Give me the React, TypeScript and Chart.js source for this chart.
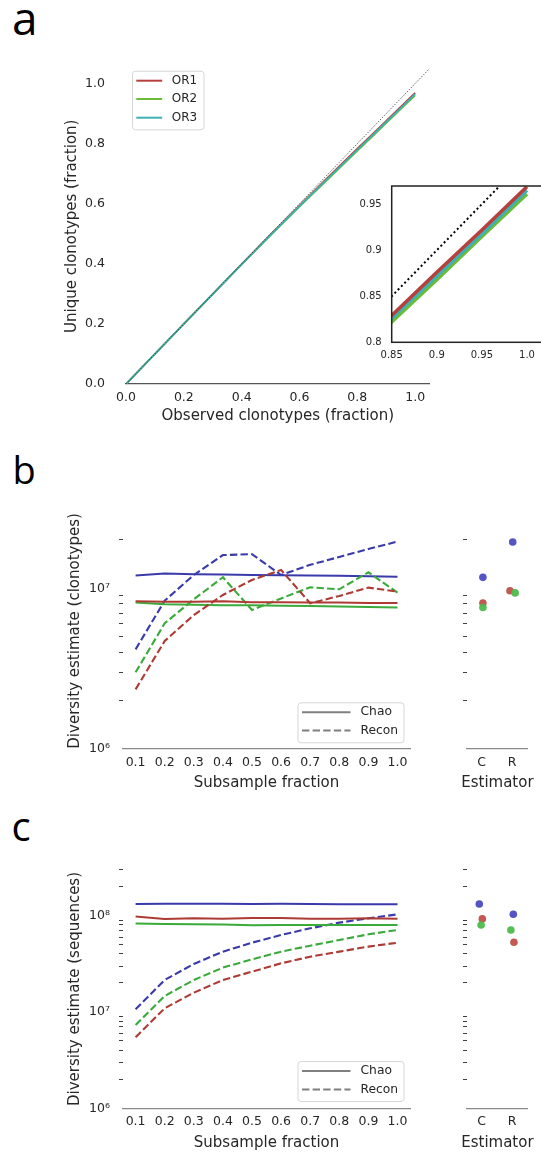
import { useEffect, useRef } from 'react';
import { Chart, registerables } from 'chart.js';

Chart.register(...registerables);
Chart.defaults.font.family = "'DejaVu Sans', 'Liberation Sans', sans-serif";
Chart.defaults.color = '#262626';

const INK = '#262626';

// ---------------- Panel a data ----------------
const repertoireLabels = ['OR1', 'OR2', 'OR3'];
const observedFraction = [0, 0.2, 0.4, 0.5, 0.6, 0.7, 0.8, 0.85, 0.9, 0.95, 1.0];
const uniqueOR1 = [0, 0.2, 0.399, 0.497, 0.594, 0.689, 0.783, 0.829, 0.876, 0.922, 0.969];
const uniqueOR2 = [0, 0.2, 0.398, 0.495, 0.59, 0.683, 0.776, 0.822, 0.868, 0.915, 0.961];
const uniqueOR3 = [0, 0.2, 0.398, 0.496, 0.592, 0.686, 0.779, 0.826, 0.872, 0.918, 0.965];
const identityLine = [0, 1.05];
const mainTicks = [0, 0.2, 0.4, 0.6, 0.8, 1.0];
const insetXTicks = [0.85, 0.9, 0.95, 1.0];
const insetXLabels = ['0.85', '0.9', '0.95', '1.0'];
const insetYTicks = [0.8, 0.85, 0.9, 0.95];
const insetYLabels = ['0.8', '0.85', '0.9', '0.95'];

// ---------------- Panels b / c data ----------------
const subsampleFraction = [0.1, 0.2, 0.3, 0.4, 0.5, 0.6, 0.7, 0.8, 0.9, 1.0];
const methodLabels = ['Chao', 'Recon'];
const estimatorLabels = ['C', 'R'];
const estimatorTicks = [0, 1];

// panel b (clonotypes)
const bChaoBlue = [1.2e7, 1.235e7, 1.225e7, 1.22e7, 1.21e7, 1.205e7, 1.2e7, 1.195e7, 1.19e7, 1.18e7];
const bChaoRed = [8.3e6, 8.25e6, 8.25e6, 8.3e6, 8.2e6, 8.2e6, 8.15e6, 8.15e6, 8.1e6, 8.1e6];
const bChaoGreen = [8.15e6, 7.95e6, 7.9e6, 7.85e6, 7.85e6, 7.8e6, 7.75e6, 7.7e6, 7.65e6, 7.6e6];
const bReconBlue = [4.17e6, 8.38e6, 1.21e7, 1.61e7, 1.63e7, 1.21e7, 1.4e7, 1.567e7, 1.757e7, 1.953e7];
const bReconGreen = [3.0e6, 6.06e6, 8.54e6, 1.171e7, 7.33e6, 8.65e6, 1.015e7, 9.86e6, 1.258e7, 9.4e6];
const bReconRed = [2.35e6, 4.7e6, 6.82e6, 9.09e6, 1.127e7, 1.3e7, 8.07e6, 8.96e6, 1.01e7, 9.53e6];
// estimator points [C, R]
const bPointsBlue = [1.17e7, 1.94e7];
const bPointsRed = [8.1e6, 9.66e6];
const bPointsGreen = [7.6e6, 9.36e6];
const bJitterBlue = [0.04, 0.02];
const bJitterRed = [0.04, -0.07];
const bJitterGreen = [0.04, 0.1];
const bYTicks = [1e6, 2e6, 3e6, 4e6, 5e6, 6e6, 7e6, 8e6, 9e6, 1e7, 2e7];
const bYMajor = [1e6, 1e7];
const bYMajorLabels = ['10\u2076', '10\u2077'];

// panel c (sequences)
const cChaoBlue = [1.32e8, 1.33e8, 1.33e8, 1.33e8, 1.32e8, 1.33e8, 1.32e8, 1.31e8, 1.31e8, 1.31e8];
const cChaoRed = [9.8e7, 9.25e7, 9.4e7, 9.3e7, 9.45e7, 9.45e7, 9.3e7, 9.3e7, 9.4e7, 9.3e7];
const cChaoGreen = [8.3e7, 8.2e7, 8.15e7, 8.1e7, 7.95e7, 8.0e7, 8.0e7, 8.0e7, 8.0e7, 8.0e7];
const cReconBlue = [1.066e7, 2.15e7, 3.15e7, 4.23e7, 5.24e7, 6.3e7, 7.39e7, 8.46e7, 9.38e7, 1.032e8];
const cReconGreen = [7.33e6, 1.466e7, 2.15e7, 2.886e7, 3.52e7, 4.23e7, 4.88e7, 5.59e7, 6.4e7, 7.1e7];
const cReconRed = [5.46e6, 1.092e7, 1.587e7, 2.15e7, 2.62e7, 3.2e7, 3.75e7, 4.23e7, 4.77e7, 5.24e7];
const cPointsBlue = [1.32e8, 1.034e8];
const cPointsRed = [9.25e7, 5.3e7];
const cPointsGreen = [8.0e7, 7.1e7];
const cJitterBlue = [-0.08, 0.04];
const cJitterRed = [0.02, 0.06];
const cJitterGreen = [-0.02, -0.04];
const cYTicks = [
  1e6, 2e6, 3e6, 4e6, 5e6, 6e6, 7e6, 8e6, 9e6,
  1e7, 2e7, 3e7, 4e7, 5e7, 6e7, 7e7, 8e7, 9e7,
  1e8, 2e8, 3e8,
];
const cYMajor = [1e6, 1e7, 1e8];
const cYMajorLabels = ['10\u2076', '10\u2077', '10\u2078'];

// ---------------- colours ----------------
const A_RED = '#b5403c';
const A_GREEN = '#6bbd38';
const A_TEAL = '#3fb0b5';
const RED = '#ad3a33';
const GREEN = '#3aaa3a';
const BLUE = '#3a3aaa';
const P_RED = 'rgba(192,80,72,0.95)';
const P_GREEN = 'rgba(76,187,76,0.95)';
const P_BLUE = 'rgba(75,75,192,0.95)';
const DASH = [7.4, 3.2];

// ---------------- helpers ----------------
const xy = (xs: number[], ys: number[]) => xs.map((x, i) => ({ x, y: ys[i] }));
const setTicks = (values: number[]) => (scale: any) => {
  scale.ticks = values.map((v) => ({ value: v }));
};
const fixWidth = (w: number) => (scale: any) => {
  scale.width = w;
};
const fixHeight = (h: number) => (scale: any) => {
  scale.height = h;
};

function lineSet(label: string, xs: number[], ys: number[], color: string, width: number, dash: number[] = []) {
  return {
    label,
    data: xy(xs, ys),
    showLine: true,
    borderColor: color,
    backgroundColor: color,
    borderWidth: width,
    borderDash: dash,
    pointRadius: 0,
    pointHoverRadius: 0,
    fill: false,
    tension: 0,
  };
}

function pointSet(label: string, values: number[], jitter: number[], color: string) {
  return {
    label,
    data: estimatorTicks.map((x, i) => ({ x: x + jitter[i], y: values[i] })),
    showLine: false,
    pointRadius: 3.8,
    pointHoverRadius: 3.8,
    pointBorderWidth: 0,
    backgroundColor: color,
    borderColor: color,
  };
}

type LegendRow = { label: string; color: string; dash: number[]; y: number };
function boxLegendPlugin(cfg: {
  x: number; y: number; w: number; h: number;
  lineX0: number; lineX1: number; textX: number; fontSize: number; lineWidth: number;
  rows: LegendRow[];
}) {
  return {
    id: 'boxLegend',
    afterDraw(chart: any) {
      const ctx = chart.ctx as CanvasRenderingContext2D;
      ctx.save();
      ctx.beginPath();
      (ctx as any).roundRect(cfg.x + 0.5, cfg.y + 0.5, cfg.w, cfg.h, 3);
      ctx.fillStyle = 'rgba(255,255,255,0.85)';
      ctx.fill();
      ctx.strokeStyle = '#d6d6d6';
      ctx.lineWidth = 1;
      ctx.stroke();
      for (const r of cfg.rows) {
        ctx.beginPath();
        ctx.setLineDash(r.dash);
        ctx.strokeStyle = r.color;
        ctx.lineWidth = cfg.lineWidth;
        ctx.moveTo(cfg.lineX0, r.y);
        ctx.lineTo(cfg.lineX1, r.y);
        ctx.stroke();
        ctx.setLineDash([]);
        ctx.fillStyle = INK;
        ctx.font = `${cfg.fontSize}px 'DejaVu Sans', sans-serif`;
        ctx.textAlign = 'left';
        ctx.textBaseline = 'middle';
        ctx.fillText(r.label, cfg.textX, r.y);
      }
      ctx.restore();
    },
  };
}

function freeTitlePlugin(text: string, x: number, y: number, size: number) {
  return {
    id: 'freeTitle',
    afterDraw(chart: any) {
      const ctx = chart.ctx as CanvasRenderingContext2D;
      ctx.save();
      ctx.fillStyle = INK;
      ctx.font = `${size}px 'DejaVu Sans', sans-serif`;
      ctx.textAlign = 'center';
      ctx.textBaseline = 'middle';
      ctx.fillText(text, x, y);
      ctx.restore();
    },
  };
}

const framePlugin = {
  id: 'frame',
  beforeDatasetsDraw(chart: any) {
    const { left, top, right, bottom } = chart.chartArea;
    const ctx = chart.ctx as CanvasRenderingContext2D;
    ctx.save();
    ctx.fillStyle = '#ffffff';
    ctx.fillRect(left, top, right - left, bottom - top);
    ctx.restore();
  },
  afterDatasetsDraw(chart: any) {
    const { left, top, right, bottom } = chart.chartArea;
    const ctx = chart.ctx as CanvasRenderingContext2D;
    ctx.save();
    ctx.strokeStyle = '#222222';
    ctx.lineWidth = 1.5;
    ctx.strokeRect(left, top, right - left, bottom - top);
    ctx.restore();
  },
};

const baseOptions = (padding: any) => ({
  animation: false as const,
  responsive: false,
  devicePixelRatio: 1,
  events: [] as any[],
  layout: { padding },
  plugins: { legend: { display: false }, tooltip: { enabled: false } },
});

// ---------------- Panel a ----------------
function panelAMain() {
  return {
    type: 'scatter',
    data: {
      datasets: [
        lineSet('identity', identityLine, identityLine, '#333333', 1, [1, 1.6]),
        lineSet(repertoireLabels[2], observedFraction, uniqueOR3, A_TEAL, 1.8),
        lineSet(repertoireLabels[1], observedFraction, uniqueOR2, A_GREEN, 1.8),
        lineSet(repertoireLabels[0], observedFraction, uniqueOR1, A_RED, 1.8),
      ],
    },
    options: {
      ...baseOptions({ left: 0, right: 111.4, top: 23.3, bottom: 0 }),
      scales: {
        x: {
          type: 'linear', min: 0, max: 1.05, bounds: 'data',
          afterBuildTicks: setTicks(mainTicks),
          afterFit: fixHeight(56),
          grid: { display: false, drawTicks: false },
          border: { display: true, color: '#555555', width: 1.2 },
          ticks: { autoSkip: false, maxRotation: 0, padding: 5.8, font: { size: 12.5 }, color: INK, callback: (v: any) => Number(v).toFixed(1) },
          title: { display: true, text: 'Observed clonotypes (fraction)', font: { size: 15 }, color: INK, padding: { top: 0, bottom: 15.3 } },
        },
        y: {
          type: 'linear', min: 0, max: 1.05, bounds: 'data',
          afterBuildTicks: setTicks(mainTicks),
          afterFit: fixWidth(126),
          grid: { display: false, drawTicks: false },
          border: { display: false },
          ticks: { autoSkip: false, padding: 21, font: { size: 12.5 }, color: INK, callback: (v: any) => Number(v).toFixed(1) },
          title: { display: true, text: 'Unique clonotypes (fraction)', font: { size: 15 }, color: INK, padding: { top: 63.5, bottom: 0 } },
        },
      },
    },
    plugins: [
      boxLegendPlugin({
        x: 132, y: 30.7, w: 71.5, h: 58.6,
        lineX0: 136.3, lineX1: 162.2, textX: 171.8, fontSize: 12, lineWidth: 2,
        rows: [
          { label: repertoireLabels[0], color: A_RED, dash: [], y: 40.7 },
          { label: repertoireLabels[1], color: A_GREEN, dash: [], y: 59 },
          { label: repertoireLabels[2], color: A_TEAL, dash: [], y: 77.7 },
        ],
      }),
    ],
  };
}

function panelAInset() {
  return {
    type: 'scatter',
    data: {
      datasets: [
        lineSet('identity', identityLine, identityLine, '#000000', 2, [2, 2.7]),
        lineSet(repertoireLabels[0], observedFraction, uniqueOR1, A_RED, 3.5),
        lineSet(repertoireLabels[2], observedFraction, uniqueOR3, A_TEAL, 3.5),
        lineSet(repertoireLabels[1], observedFraction, uniqueOR2, A_GREEN, 3.5),
      ],
    },
    options: {
      ...baseOptions({ left: 0, right: 0, top: 6, bottom: 0 }),
      scales: {
        x: {
          type: 'linear', min: 0.85, max: 1.0366, bounds: 'data',
          afterBuildTicks: setTicks(insetXTicks),
          afterFit: fixHeight(27.7),
          grid: { display: false, drawTicks: false },
          border: { display: false },
          ticks: { autoSkip: false, maxRotation: 0, padding: 6.7, font: { size: 10 }, color: INK, callback: (_v: any, i: number) => insetXLabels[i] },
        },
        y: {
          type: 'linear', min: 0.8, max: 0.9697, bounds: 'data',
          afterBuildTicks: setTicks(insetYTicks),
          afterFit: fixWidth(51.7),
          grid: { display: false, drawTicks: false },
          border: { display: false },
          ticks: { autoSkip: false, padding: 10, font: { size: 10 }, color: INK, callback: (_v: any, i: number) => insetYLabels[i] },
        },
      },
    },
    plugins: [framePlugin],
  };
}

// ---------------- Panels b / c ----------------
type LogPanel = {
  chaoBlue: number[]; chaoRed: number[]; chaoGreen: number[];
  reconBlue: number[]; reconRed: number[]; reconGreen: number[];
  ptsBlue: number[]; ptsRed: number[]; ptsGreen: number[];
  jitBlue: number[]; jitRed: number[]; jitGreen: number[];
  yTicks: number[]; yMajor: number[]; yMajorLabels: string[];
  yMax: number; yTitle: string;
  padTop: number; xAxisH: number; xTitleBottom: number; titleY: number;
  legendY: number; legendRow1: number; legendRow2: number;
};

function logY(p: LogPanel, width: number, showLabels: boolean) {
  return {
    type: 'logarithmic', min: 1e6, max: p.yMax, bounds: 'data',
    afterBuildTicks: setTicks(p.yTicks),
    afterFit: fixWidth(width),
    grid: {
      display: true, drawOnChartArea: false, drawTicks: true, tickLength: 3.5, lineWidth: 1,
      color: (ctx: any) => (ctx.tick && p.yMajor.includes(ctx.tick.value) ? 'rgba(0,0,0,0)' : '#3c3c3c'),
    },
    border: { display: false },
    ticks: {
      autoSkip: false, padding: 9, font: { size: 12.5 }, color: INK,
      callback: (v: any) => {
        if (!showLabels) return '';
        const k = p.yMajor.indexOf(Number(v));
        return k >= 0 ? p.yMajorLabels[k] : '';
      },
    },
    title: showLabels
      ? { display: true, text: p.yTitle, font: { size: 15 }, color: INK, padding: { top: 66.2, bottom: 0 } }
      : { display: false },
  };
}

function logMain(p: LogPanel) {
  return () => ({
    type: 'scatter',
    data: {
      datasets: [
        lineSet(methodLabels[0], subsampleFraction, p.chaoRed, RED, 2),
        lineSet(methodLabels[1], subsampleFraction, p.reconRed, RED, 2.1, DASH),
        lineSet(methodLabels[0], subsampleFraction, p.chaoGreen, GREEN, 2),
        lineSet(methodLabels[1], subsampleFraction, p.reconGreen, GREEN, 2.1, DASH),
        lineSet(methodLabels[0], subsampleFraction, p.chaoBlue, BLUE, 2),
        lineSet(methodLabels[1], subsampleFraction, p.reconBlue, BLUE, 2.1, DASH),
      ],
    },
    options: {
      ...baseOptions({ left: 0, right: 19.4, top: p.padTop, bottom: 0 }),
      scales: {
        x: {
          type: 'linear', min: 0.055, max: 1.045, bounds: 'data',
          afterBuildTicks: setTicks(subsampleFraction),
          afterFit: fixHeight(p.xAxisH),
          grid: { display: false, drawTicks: false },
          border: { display: true, color: '#8a8a8a', width: 1.3 },
          ticks: { autoSkip: false, maxRotation: 0, padding: 5.8, font: { size: 12.5 }, color: INK, callback: (v: any) => Number(v).toFixed(1) },
          title: { display: true, text: 'Subsample fraction', font: { size: 15 }, color: INK, padding: { top: 0, bottom: p.xTitleBottom } },
        },
        y: logY(p, 122.5, true),
      },
    },
    plugins: [
      boxLegendPlugin({
        x: 297.5, y: p.legendY, w: 106, h: 40,
        lineX0: 302, lineX1: 350.5, textX: 360.5, fontSize: 12.3, lineWidth: 2,
        rows: [
          { label: methodLabels[0], color: '#7f7f7f', dash: [], y: p.legendRow1 },
          { label: methodLabels[1], color: '#7f7f7f', dash: DASH, y: p.legendRow2 },
        ],
      }),
    ],
  });
}

function logSide(p: LogPanel) {
  return () => ({
    type: 'scatter',
    data: {
      datasets: [
        pointSet('blue', p.ptsBlue, p.jitBlue, P_BLUE),
        pointSet('green', p.ptsGreen, p.jitGreen, P_GREEN),
        pointSet('red', p.ptsRed, p.jitRed, P_RED),
      ],
    },
    options: {
      ...baseOptions({ left: 0, right: 13.7, top: p.padTop, bottom: 0 }),
      scales: {
        x: {
          type: 'linear', min: -0.5, max: 1.5, bounds: 'data',
          afterBuildTicks: setTicks(estimatorTicks),
          afterFit: fixHeight(p.xAxisH),
          grid: { display: false, drawTicks: false },
          border: { display: true, color: '#8a8a8a', width: 1.3 },
          ticks: { autoSkip: false, maxRotation: 0, padding: 5.8, font: { size: 12.5 }, color: INK, callback: (_v: any, i: number) => estimatorLabels[i] },
        },
        y: logY(p, 36.5, false),
      },
    },
    plugins: [freeTitlePlugin('Estimator', 67.4, p.titleY, 15)],
  });
}

const panelB: LogPanel = {
  chaoBlue: bChaoBlue, chaoRed: bChaoRed, chaoGreen: bChaoGreen,
  reconBlue: bReconBlue, reconRed: bReconRed, reconGreen: bReconGreen,
  ptsBlue: bPointsBlue, ptsRed: bPointsRed, ptsGreen: bPointsGreen,
  jitBlue: bJitterBlue, jitRed: bJitterRed, jitGreen: bJitterGreen,
  yTicks: bYTicks, yMajor: bYMajor, yMajorLabels: bYMajorLabels,
  yMax: 2.95e7, yTitle: 'Diversity estimate (clonotypes)',
  padTop: 22.8, xAxisH: 51, xTitleBottom: 7.7, titleY: 293.3,
  legendY: 212.3, legendRow1: 222.3, legendRow2: 240.5,
};

const panelC: LogPanel = {
  chaoBlue: cChaoBlue, chaoRed: cChaoRed, chaoGreen: cChaoGreen,
  reconBlue: cReconBlue, reconRed: cReconRed, reconGreen: cReconGreen,
  ptsBlue: cPointsBlue, ptsRed: cPointsRed, ptsGreen: cPointsGreen,
  jitBlue: cJitterBlue, jitRed: cJitterRed, jitGreen: cJitterGreen,
  yTicks: cYTicks, yMajor: cYMajor, yMajorLabels: cYMajorLabels,
  yMax: 3.0e8, yTitle: 'Diversity estimate (sequences)',
  padTop: 19.7, xAxisH: 43.7, xTitleBottom: 0, titleY: 293.3,
  legendY: 211, legendRow1: 221, legendRow2: 239.5,
};

// ---------------- components ----------------
function ChartBox(props: { left: number; top: number; width: number; height: number; make: () => any }) {
  const ref = useRef<HTMLCanvasElement>(null);
  useEffect(() => {
    const chart = new Chart(ref.current as HTMLCanvasElement, props.make());
    return () => chart.destroy();
  }, []);
  return (
    <canvas
      ref={ref}
      width={props.width}
      height={props.height}
      style={{ position: 'absolute', left: props.left, top: props.top, width: props.width, height: props.height }}
    />
  );
}

const letter = (left: number, top: number, size: number) => ({
  position: 'absolute' as const,
  left,
  top,
  fontSize: size,
  lineHeight: `${size}px`,
  fontFamily: "'Open Sans', 'Noto Sans', sans-serif",
  color: '#000',
  margin: 0,
});

export default function App() {
  return (
    <div style={{ position: 'absolute', left: 0, top: 0, width: 541, height: 1152, overflow: 'hidden', background: '#fff' }}>
      <div style={letter(12, -5.8, 46)}>a</div>
      <div style={letter(12.5, 449.6, 38)}>b</div>
      <div style={letter(11.4, 806.2, 40)}>c</div>
      <ChartBox left={0} top={40} width={541} height={400} make={panelAMain} />
      <ChartBox left={340} top={170} width={220} height={200} make={panelAInset} />
      <ChartBox left={0} top={490} width={430} height={310} make={logMain(panelB)} />
      <ChartBox left={430} top={490} width={111} height={310} make={logSide(panelB)} />
      <ChartBox left={0} top={850} width={430} height={302} make={logMain(panelC)} />
      <ChartBox left={430} top={850} width={111} height={302} make={logSide(panelC)} />
    </div>
  );
}
